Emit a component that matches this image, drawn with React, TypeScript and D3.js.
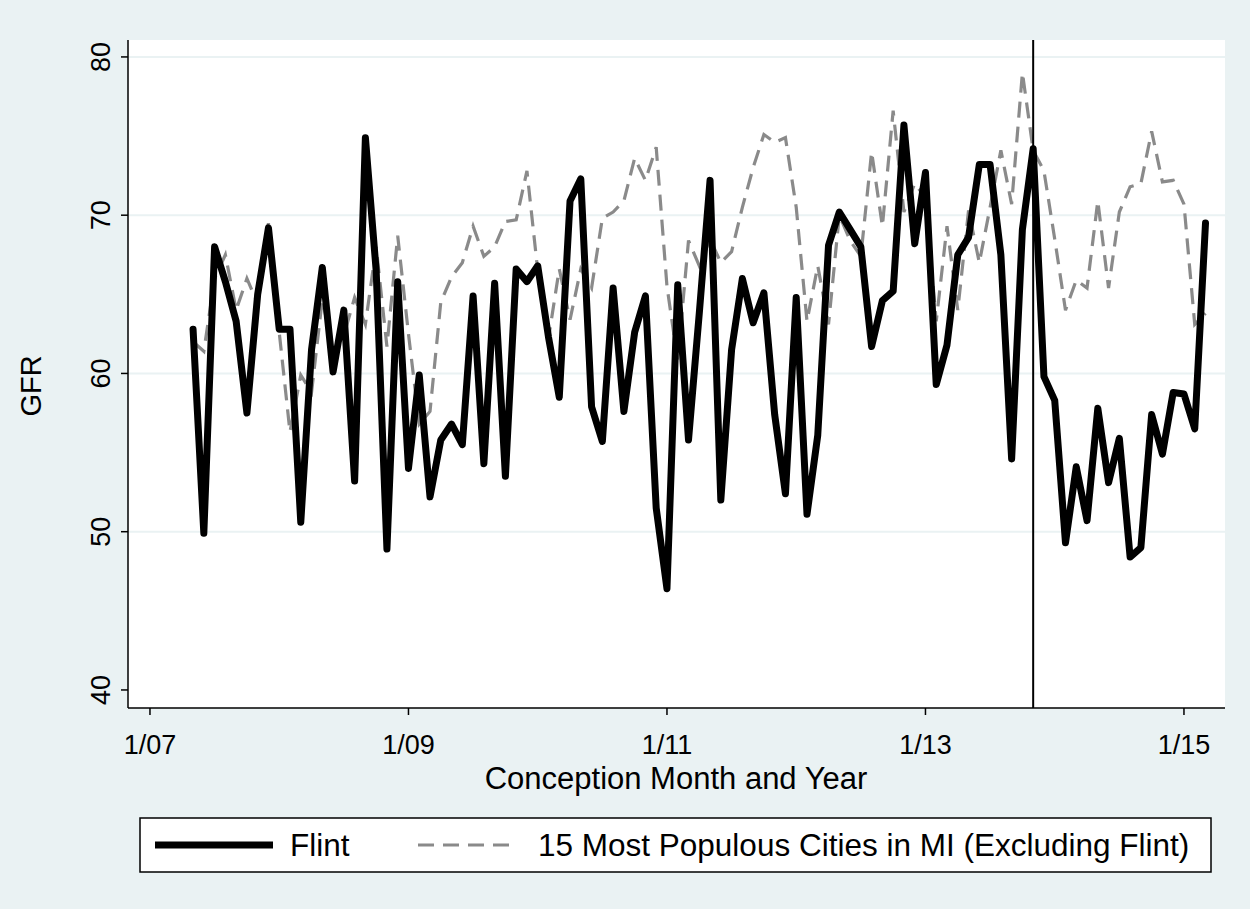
import React from "react";
import * as d3 from "d3";

// Months are counted from January 2007 (0 = 1/07).
const firstMonth = 4; // May 2007
const policyMonth = 82; // November 2013

const flintGFR = [
  62.8, 49.9, 68.0, 65.8, 63.3, 57.5, 65.0, 69.2,
  62.8, 62.8, 50.6, 61.5, 66.7, 60.1, 64.0, 53.2, 74.9, 66.5, 48.9, 65.8,
  54.0, 59.9, 52.2, 55.8, 56.8, 55.5, 64.9, 54.3, 65.7, 53.5, 66.6, 65.8,
  66.8, 62.3, 58.5, 70.9, 72.3, 57.9, 55.7, 65.4, 57.6, 62.6, 64.9, 51.5,
  46.4, 65.6, 55.8, 63.8, 72.2, 52.0, 61.5, 66.0, 63.2, 65.1, 57.4, 52.4,
  64.8, 51.1, 56.1, 68.1, 70.2, 69.1, 68.0, 61.7, 64.6, 65.2, 75.7, 68.2,
  72.7, 59.3, 61.8, 67.5, 68.6, 73.2, 73.2, 67.5, 54.6, 69.1, 74.2, 59.8,
  58.3, 49.3, 54.1, 50.7, 57.8, 53.1, 55.9, 48.4, 49.0, 57.4, 54.9, 58.8,
  58.7, 56.5, 69.5,
];

const citiesGFR = [
  62.0, 61.4, 66.0, 67.5, 64.0, 66.0, 64.4, 69.5,
  62.6, 56.3, 59.9, 58.8, 64.7, 61.4, 62.4, 64.8, 63.1, 68.0, 61.7, 68.7,
  62.5, 56.8, 57.6, 64.5, 66.1, 67.0, 69.3, 67.4, 68.0, 69.6, 69.7, 72.8,
  66.5, 62.2, 66.6, 63.4, 66.6, 65.4, 69.8, 70.2, 70.9, 73.6, 72.2, 74.3,
  65.5, 60.8, 68.4, 66.8, 68.5, 67.0, 67.7, 70.5, 73.0, 75.1, 74.6, 74.9,
  70.5, 63.3, 66.8, 63.1, 70.0, 68.4, 67.4, 74.0, 69.3, 76.6, 70.2, 72.0,
  71.1, 63.3, 69.3, 64.0, 70.3, 67.0, 70.5, 74.1, 70.7, 79.0, 74.1, 72.8,
  68.5, 64.0, 65.9, 65.4, 70.9, 65.4, 70.2, 71.8, 72.0, 75.3, 72.1, 72.2,
  70.7, 63.1, 63.8,
];

const xTickMonths = [0, 24, 48, 72, 96];
const xTickLabels = ["1/07", "1/09", "1/11", "1/13", "1/15"];
const yTicks = [40, 50, 60, 70, 80];
const yGrid = [50, 60, 70, 80];

const seriesNames = ["Flint", "15 Most Populous Cities in MI (Excluding Flint)"];

const W = 1250;
const H = 909;
const plot = { left: 128, right: 1225, top: 40, bottom: 708 };
const FONT = "'Liberation Sans', Arial, sans-serif";
const BG = "#eaf2f3";

export default function App() {
  const x = d3.scaleLinear().domain([-2.04, 99.81]).range([plot.left, plot.right]);
  const y = d3.scaleLinear().domain([38.86, 81.07]).range([plot.bottom, plot.top]);

  const line = d3
    .line<number>()
    .x((_, i) => x(firstMonth + i))
    .y((d) => y(d));

  return (
    <svg
      width={W}
      height={H}
      style={{ position: "absolute", left: 0, top: 0, display: "block" }}
      fontFamily={FONT}
    >
      <rect x={0} y={0} width={W} height={H} fill={BG} />
      <rect
        x={plot.left}
        y={plot.top}
        width={plot.right - plot.left}
        height={plot.bottom - plot.top}
        fill="#ffffff"
      />

      {/* horizontal grid */}
      {yGrid.map((v) => (
        <line
          key={"g" + v}
          x1={plot.left}
          x2={plot.right}
          y1={y(v)}
          y2={y(v)}
          stroke={BG}
          strokeWidth={2}
        />
      ))}

      {/* comparison cities */}
      <path
        d={line(citiesGFR) || ""}
        fill="none"
        stroke="#8a8a8a"
        strokeWidth={3.2}
        strokeDasharray="16 9"
      />

      {/* Flint */}
      <path
        d={line(flintGFR) || ""}
        fill="none"
        stroke="#000000"
        strokeWidth={7}
        strokeLinejoin="round"
        strokeLinecap="round"
      />

      {/* water source switch */}
      <line
        x1={x(policyMonth)}
        x2={x(policyMonth)}
        y1={plot.top}
        y2={plot.bottom}
        stroke="#000"
        strokeWidth={2}
      />

      {/* y axis */}
      <line x1={plot.left} x2={plot.left} y1={plot.top} y2={plot.bottom} stroke="#000" strokeWidth={1.5} />
      {yTicks.map((v) => (
        <g key={"yt" + v}>
          <line x1={plot.left - 7} x2={plot.left} y1={y(v)} y2={y(v)} stroke="#000" strokeWidth={1.5} />
          <text
            transform={`translate(${plot.left - 18},${y(v)}) rotate(-90)`}
            textAnchor="middle"
            fontSize={27}
            fill="#000"
          >
            {v}
          </text>
        </g>
      ))}
      <text
        transform={`translate(41,${(plot.top + plot.bottom) / 2 + 12}) rotate(-90)`}
        textAnchor="middle"
        fontSize={29}
        fill="#000"
      >
        GFR
      </text>

      {/* x axis */}
      <line x1={plot.left} x2={plot.right} y1={plot.bottom} y2={plot.bottom} stroke="#000" strokeWidth={1.5} />
      {xTickMonths.map((m, i) => (
        <g key={"xt" + m}>
          <line x1={x(m)} x2={x(m)} y1={plot.bottom} y2={plot.bottom + 7} stroke="#000" strokeWidth={1.5} />
          <text x={x(m)} y={plot.bottom + 46} textAnchor="middle" fontSize={27} fill="#000">
            {xTickLabels[i]}
          </text>
        </g>
      ))}
      <text x={676} y={789} textAnchor="middle" fontSize={31} fill="#000">
        Conception Month and Year
      </text>

      {/* legend */}
      <rect x={140} y={818} width={1071} height={54} fill="#fff" stroke="#000" strokeWidth={1.5} />
      <line x1={155} x2={273} y1={845} y2={845} stroke="#000" strokeWidth={7} />
      <text x={290} y={856} fontSize={31.5} fill="#000">
        {seriesNames[0]}
      </text>
      <line x1={418} x2={516} y1={845} y2={845} stroke="#8a8a8a" strokeWidth={3.2} strokeDasharray="16 9" />
      <text x={538} y={856} fontSize={31.5} fill="#000">
        {seriesNames[1]}
      </text>
    </svg>
  );
}
